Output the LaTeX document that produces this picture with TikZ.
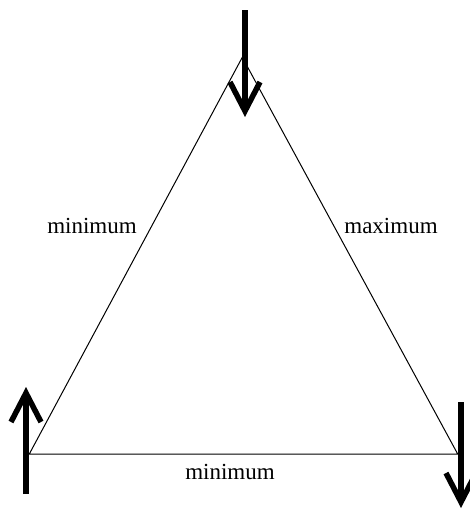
\documentclass[tikz,border=0pt]{standalone}
\usepackage{fontspec}
\setmainfont{Liberation Serif}
\usetikzlibrary{arrows.meta}
\begin{document}
\begin{tikzpicture}[x=1pt,y=-1pt,
  edge/.style={line width=1pt, line join=miter},
  bigarrow/.style={line width=5.5pt, -{Straight Barb[length=29pt,width=30pt]}},
  lbl/.style={font=\fontsize{23}{26}\selectfont, inner sep=0pt, anchor=base}]
\useasboundingbox (0,0) rectangle (470,509);
\coordinate (A) at (242.3,57.3);
\coordinate (B) at (29.3,454);
\coordinate (C) at (457.7,454);
\draw[edge] (A) -- (B) -- (C) -- cycle;
\coordinate (t1) at (245,10);
\coordinate (t2) at (245,117);
\coordinate (l1) at (26,494);
\coordinate (l2) at (26,387);
\coordinate (r1) at (461,402);
\coordinate (r2) at (461,508);
\draw[bigarrow] (t1) -- (t2);
\draw[bigarrow] (l1) -- (l2);
\draw[bigarrow] (r1) -- (r2);
\node[lbl] (lmin) at (92,233) {minimum};
\node[lbl] (rmax) at (391,233) {maximum};
\node[lbl] (bmin) at (230,479) {minimum};
\end{tikzpicture}
\end{document}
